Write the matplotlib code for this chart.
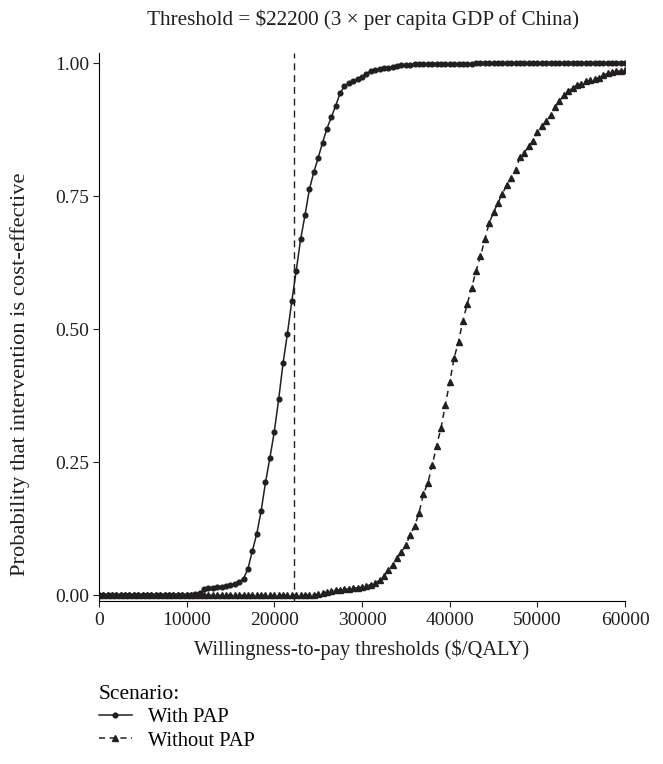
import matplotlib
matplotlib.use("Agg")
import matplotlib.pyplot as plt

plt.rcParams['font.family'] = ['Liberation Serif', 'DejaVu Serif']
plt.rcParams['font.size'] = 14

# willingness-to-pay thresholds ($/QALY), one point every 500
wtp = list(range(0, 60001, 500))

with_pap = [
    0.000, 0.000, 0.000, 0.000, 0.000, 0.000, 0.000, 0.000, 0.000, 0.000,   # 0 - 4500
    0.000, 0.000, 0.000, 0.000, 0.000, 0.000, 0.000, 0.000, 0.000, 0.000,   # 5000 - 9500
    0.001, 0.001, 0.002, 0.004, 0.011, 0.013, 0.014, 0.015, 0.016, 0.017,   # 10000 - 14500
    0.019, 0.021, 0.025, 0.031, 0.050, 0.083, 0.115, 0.158, 0.212, 0.258,   # 15000 - 19500
    0.307, 0.368, 0.436, 0.492, 0.553, 0.610, 0.669, 0.714, 0.763, 0.795,   # 20000 - 24500
    0.822, 0.851, 0.877, 0.899, 0.920, 0.944, 0.957, 0.963, 0.967, 0.971,   # 25000 - 29500
    0.975, 0.980, 0.986, 0.988, 0.989, 0.991, 0.992, 0.994, 0.995, 0.996,   # 30000 - 34500
    0.997, 0.997, 0.998, 0.998, 0.998, 0.999, 0.999, 0.999, 0.999, 0.999,   # 35000 - 39500
    0.999, 0.999, 0.999, 0.999, 0.999, 0.999, 1.000, 1.000, 1.000, 1.000,   # 40000 - 44500
    1.000, 1.000, 1.000, 1.000, 1.000, 1.000, 1.000, 1.000, 1.000, 1.000,   # 45000 - 49500
    1.000, 1.000, 1.000, 1.000, 1.000, 1.000, 1.000, 1.000, 1.000, 1.000,   # 50000 - 54500
    1.000, 1.000, 1.000, 1.000, 1.000, 1.000, 1.000, 1.000, 1.000, 1.000,   # 55000 - 59500
    1.000,                                                                  # 60000
]

without_pap = [
    0.000, 0.000, 0.000, 0.000, 0.000, 0.000, 0.000, 0.000, 0.000, 0.000,   # 0 - 4500
    0.000, 0.000, 0.000, 0.000, 0.000, 0.000, 0.000, 0.000, 0.000, 0.000,   # 5000 - 9500
    0.000, 0.000, 0.000, 0.000, 0.000, 0.000, 0.000, 0.000, 0.000, 0.000,   # 10000 - 14500
    0.000, 0.000, 0.000, 0.000, 0.000, 0.000, 0.000, 0.000, 0.000, 0.000,   # 15000 - 19500
    0.000, 0.000, 0.000, 0.000, 0.000, 0.000, 0.000, 0.000, 0.001, 0.001,   # 20000 - 24500
    0.002, 0.004, 0.006, 0.008, 0.009, 0.010, 0.011, 0.012, 0.013, 0.014,   # 25000 - 29500
    0.015, 0.017, 0.020, 0.023, 0.028, 0.037, 0.047, 0.057, 0.070, 0.081,   # 30000 - 34500
    0.094, 0.114, 0.130, 0.155, 0.190, 0.211, 0.244, 0.281, 0.314, 0.358,   # 35000 - 39500
    0.401, 0.446, 0.477, 0.516, 0.548, 0.578, 0.610, 0.637, 0.669, 0.700,   # 40000 - 44500
    0.720, 0.738, 0.755, 0.771, 0.784, 0.800, 0.823, 0.832, 0.845, 0.854,   # 45000 - 49500
    0.871, 0.882, 0.891, 0.902, 0.917, 0.929, 0.940, 0.948, 0.954, 0.959,   # 50000 - 54500
    0.962, 0.966, 0.968, 0.971, 0.973, 0.978, 0.981, 0.983, 0.985, 0.986,   # 55000 - 59500
    0.987,                                                                  # 60000
]

threshold = 22200
x_ticks = [0, 10000, 20000, 30000, 40000, 50000, 60000]
y_ticks = [0.0, 0.25, 0.5, 0.75, 1.0]

ink = "#231f20"

fig = plt.figure(figsize=(6.63, 7.64), dpi=100)
ax = fig.add_axes([0.149, 0.214, 0.794, 0.717])

ax.plot(wtp, with_pap, color=ink, lw=1.1, marker="o", ms=3.4,
        label="With PAP")
ax.plot(wtp, without_pap, color=ink, lw=1.1, ls=(0, (4, 3)), marker="^",
        ms=4.4, label="Without PAP")
ax.axvline(threshold, color=ink, lw=1.0, ls=(0, (5, 3.5)))

ax.set_xlim(0, 60000)
ax.set_ylim(-0.01, 1.02)
ax.set_xticks(x_ticks)
ax.set_yticks(y_ticks)
ax.set_yticklabels([f"{v:.2f}" for v in y_ticks])
ax.spines["top"].set_visible(False)
ax.spines["right"].set_visible(False)
ax.tick_params(direction="out", length=4.5, colors=ink, labelsize=14)
ax.tick_params(axis="y", pad=2.5)

fig.text(0.548, 0.974, r"Threshold = \$22200 (3 × per capita GDP of China)",
         ha="center", va="center", fontsize=15.2, color=ink)
ax.set_xlabel(r"Willingness-to-pay thresholds (\$/QALY)", fontsize=14.8,
              color=ink, labelpad=8)
ax.set_ylabel("Probability that intervention is cost-effective",
              fontsize=16.2, color=ink)
ax.yaxis.set_label_coords(-0.130, 0.413)

leg = fig.legend(loc="upper left", bbox_to_anchor=(0.149, 0.104),
                 frameon=False, title="Scenario:", alignment="left",
                 fontsize=14.8, handlelength=1.6, handletextpad=0.8,
                 labelspacing=0.2, borderpad=0, borderaxespad=0)
leg.get_title().set_fontsize(15.5)

fig.savefig("out.png", dpi=100)
